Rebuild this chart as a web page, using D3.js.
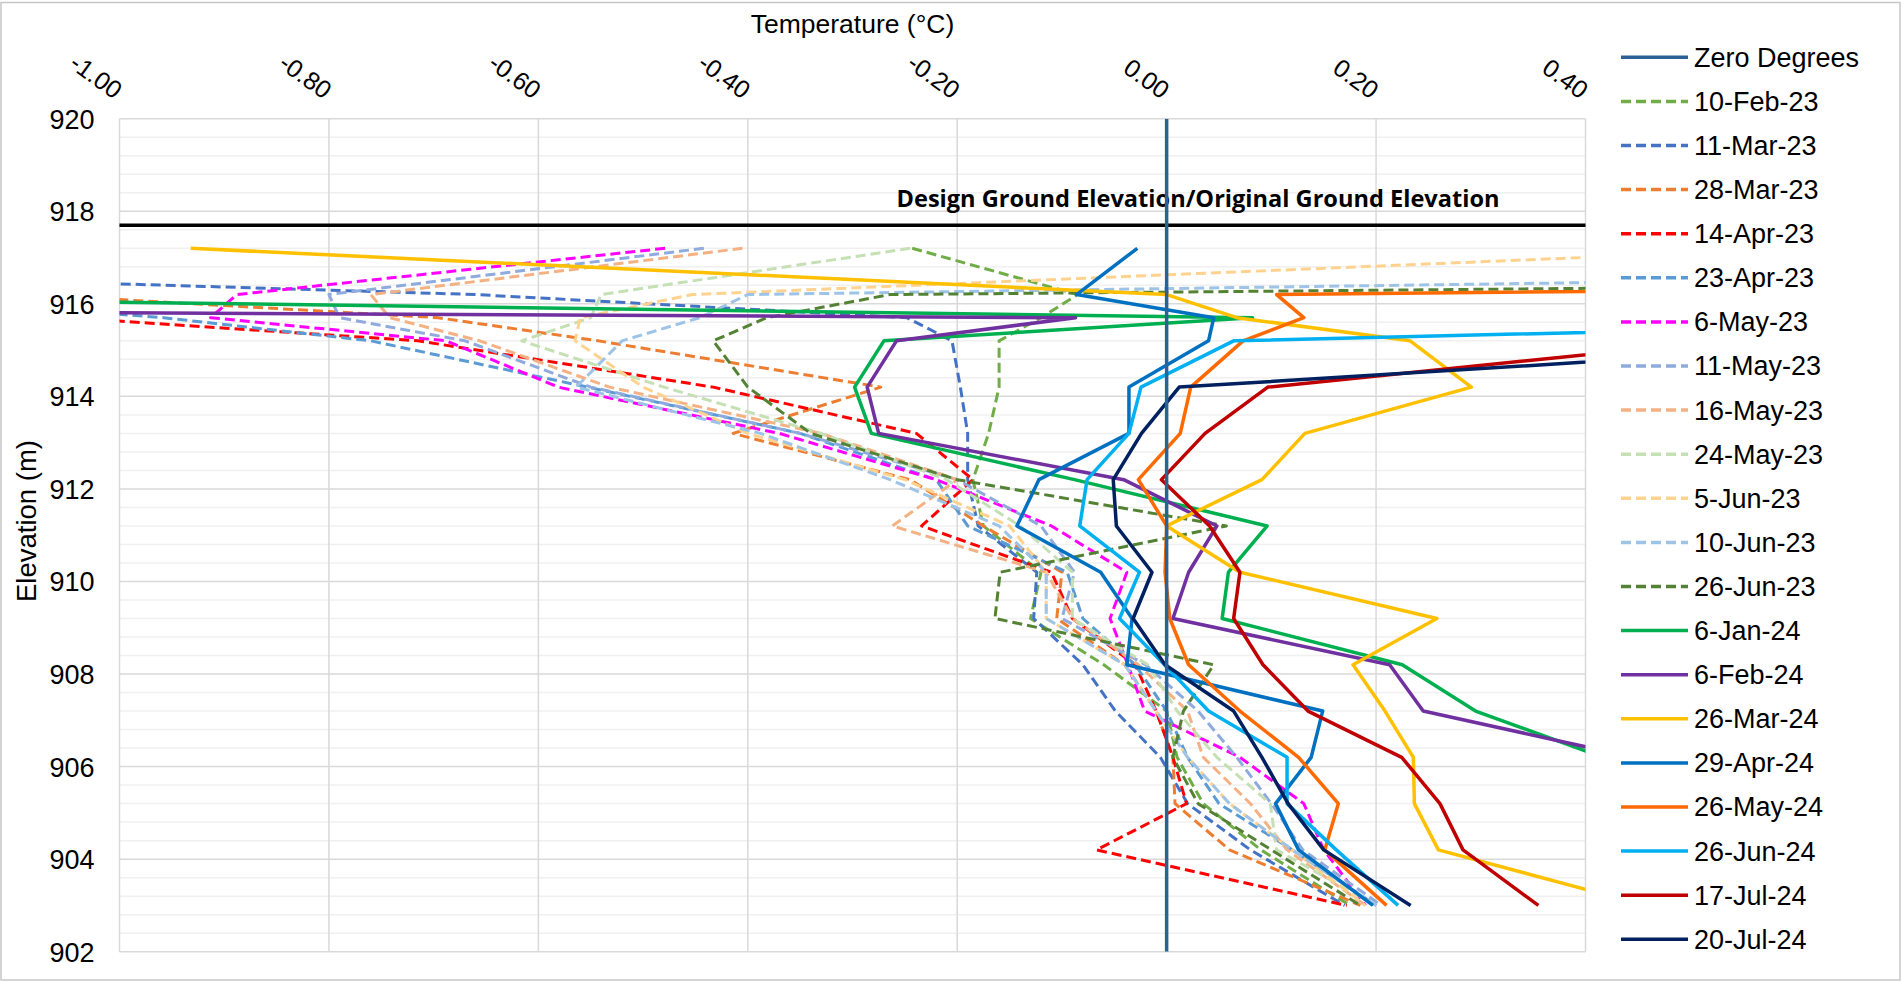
<!DOCTYPE html>
<html><head><meta charset="utf-8">
<script src="https://cdn.jsdelivr.net/npm/d3@7"></script>
<style>body{margin:0;background:#fff}svg{display:block}</style>
</head><body>
<svg id="chart" width="1902" height="982"></svg>
<script>
// ---------- DATA ----------
const elevations = [917.2, 916.2, 915.7, 915.2, 914.2, 913.2, 912.2, 911.2, 910.2, 909.2, 908.2, 907.2, 906.2, 905.2, 904.2, 903.0];
const xTickValues = [-1.0, -0.8, -0.6, -0.4, -0.2, 0.0, 0.2, 0.4];
const yTickValues = [902, 904, 906, 908, 910, 912, 914, 916, 918, 920];
const designGroundElevation = 917.7;
const designLabel = "Design Ground Elevation/Original Ground Elevation";

const zeroDegreesTemp = [0, 0];
const zeroDegreesElev = [920, 902];

const t10Feb23 = [-0.243, -0.085, -0.12, -0.16, -0.16, -0.17, -0.185, -0.175, -0.12, -0.13, -0.06, 0.0, 0.01, 0.035, 0.09, 0.175];
const t11Mar23 = [-2.13, -0.66, -0.248, -0.205, -0.197, -0.19, -0.19, -0.18, -0.124, -0.127, -0.08, -0.049, -0.006, 0.02, 0.08, 0.17];
const t28Mar23 = [-1.5, -1.085, -0.696, -0.543, -0.273, -0.414, -0.245, -0.175, -0.10, -0.105, -0.04, -0.01, 0.006, 0.008, 0.06, 0.185];
const t14Apr23 = [-1.5, -1.3, -1.05, -0.715, -0.433, -0.239, -0.185, -0.234, -0.11, -0.09, -0.03, -0.01, 0.006, 0.019, -0.067, 0.172];
const t23Apr23 = [-1.6, -1.25, -0.958, -0.76, -0.553, -0.35, -0.22, -0.19, -0.095, -0.08, -0.03, 0.0, 0.02, 0.05, 0.12, 0.2];
const t6May23 = [-0.479, -0.888, -0.913, -0.688, -0.581, -0.37, -0.22, -0.11, -0.038, -0.054, -0.037, -0.021, 0.07, 0.131, 0.15, 0.19];
const t11May23 = [-0.442, -0.80, -0.79, -0.67, -0.55, -0.35, -0.2, -0.12, -0.088, -0.1, -0.02, 0.03, 0.067, 0.1, 0.13, 0.205];
const t16May23 = [-0.405, -0.76, -0.742, -0.656, -0.532, -0.33, -0.2, -0.262, -0.115, -0.09, -0.027, 0.02, 0.035, 0.08, 0.115, 0.19];
const t24May23 = [-0.245, -0.54, -0.55, -0.616, -0.48, -0.33, -0.21, -0.14, -0.09, -0.09, -0.018, 0.01, 0.048, 0.099, 0.105, 0.2];
const t5Jun23 = [0.61, -0.453, -0.56, -0.565, -0.50, -0.40, -0.25, -0.15, -0.115, -0.115, -0.04, -0.01, 0.02, 0.06, 0.12, 0.19];
const t10Jun23 = [2.7, -0.4, -0.446, -0.52, -0.564, -0.388, -0.264, -0.16, -0.115, -0.115, -0.04, -0.01, 0.02, 0.06, 0.12, 0.2];
const t26Jun23 = [4.7, -0.264, -0.382, -0.433, -0.40, -0.34, -0.2, 0.057, -0.159, -0.164, 0.045, 0.016, 0.006, 0.03, 0.1, 0.185];
const t6Jan24 = [-2.0, -1.54, 0.082, -0.27, -0.298, -0.282, -0.088, 0.096, 0.059, 0.053, 0.225, 0.295, 0.417, 0.5, 0.55, 0.6];
const t6Feb24 = [-5.0, -4.3, -0.087, -0.258, -0.286, -0.275, -0.041, 0.048, 0.021, 0.006, 0.213, 0.245, 0.446, 0.5, 0.55, 0.6];
const t26Mar24 = [-0.932, 0.0, 0.067, 0.2325, 0.291, 0.132, 0.091, 0.0, 0.070, 0.258, 0.178, 0.2085, 0.2356, 0.2366, 0.2595, 0.457];
const t29Apr24 = [-0.028, -0.086, 0.045, 0.040, -0.036, -0.036, -0.122, -0.143, -0.063, -0.033, -0.038, 0.149, 0.138, 0.104, 0.126, 0.197];
const t26May24 = [4.5, 0.105, 0.131, 0.073, 0.023, 0.013, -0.027, 0.0, -0.0015, 0.003, 0.021, 0.070, 0.126, 0.164, 0.151, 0.21];
const t26Jun24 = [2.0, 1.5, 0.99, 0.064, -0.0245, -0.036, -0.076, -0.083, -0.026, -0.045, -0.002, 0.040, 0.115, 0.115, 0.162, 0.221];
const t17Jul24 = [1.2, 0.9, 0.7, 0.53, 0.0966, 0.0367, -0.005, 0.041, 0.070, 0.064, 0.092, 0.135, 0.2245, 0.261, 0.283, 0.355];
const t20Jul24 = [1.3, 1.0, 0.85, 0.73, 0.012, -0.024, -0.051, -0.048, -0.014, -0.032, -0.0015, 0.064, 0.091, 0.116, 0.150, 0.233];

const seriesNames = ["Zero Degrees", "10-Feb-23", "11-Mar-23", "28-Mar-23", "14-Apr-23", "23-Apr-23", "6-May-23", "11-May-23", "16-May-23", "24-May-23", "5-Jun-23", "10-Jun-23", "26-Jun-23", "6-Jan-24", "6-Feb-24", "26-Mar-24", "29-Apr-24", "26-May-24", "26-Jun-24", "17-Jul-24", "20-Jul-24"];
const seriesColors = ["#2a6298", "#70ad47", "#4472c4", "#ed7d31", "#ff0000", "#5b9bd5", "#ff00ff", "#8faadc", "#f4b183", "#c5e0b4", "#ffd38f", "#9dc3e6", "#548235", "#00b050", "#7030a0", "#ffc000", "#0070c0", "#ff6a00", "#00b0f0", "#c00000", "#002060"];
const seriesDashed = [false, true, true, true, true, true, true, true, true, true, true, true, true, false, false, false, false, false, false, false, false];
const seriesTemps = [zeroDegreesTemp, t10Feb23, t11Mar23, t28Mar23, t14Apr23, t23Apr23, t6May23, t11May23, t16May23, t24May23, t5Jun23, t10Jun23, t26Jun23, t6Jan24, t6Feb24, t26Mar24, t29Apr24, t26May24, t26Jun24, t17Jul24, t20Jul24];

// ---------- LAYOUT ----------
const W = 1902, H = 982;
const P = {left: 119.5, right: 1585.5, top: 118.7, bottom: 951.7};
const svg = d3.select("#chart");
const FONT = "'Liberation Sans', Arial, sans-serif";

const x = d3.scaleLinear().domain([-1.0, 0.4]).range([P.left, P.right]);
const y = d3.scaleLinear().domain([902, 920]).range([P.bottom, P.top]);

svg.append("rect").attr("x", 1).attr("y", 2.5).attr("width", W - 3).attr("height", H - 4.5)
  .attr("fill", "#fff").attr("stroke", "#c6c6c6").attr("stroke-width", 1.5);

// minor gridlines every 0.4 m
const minor = d3.range(0, 46).map(i => 902 + i * 0.4).filter(v => Math.abs((v - 902) / 2 - Math.round((v - 902) / 2)) > 1e-6);
svg.append("g").selectAll("line").data(minor).join("line")
  .attr("x1", P.left).attr("x2", P.right).attr("y1", d => y(d)).attr("y2", d => y(d))
  .attr("stroke", "#f0f0f0").attr("stroke-width", 1.5);
svg.append("g").selectAll("line").data(yTickValues).join("line")
  .attr("x1", P.left).attr("x2", P.right).attr("y1", d => y(d)).attr("y2", d => y(d))
  .attr("stroke", "#d9d9d9").attr("stroke-width", 1.5);
svg.append("g").selectAll("line").data(xTickValues).join("line")
  .attr("x1", d => x(d)).attr("x2", d => x(d)).attr("y1", P.top).attr("y2", P.bottom)
  .attr("stroke", "#d9d9d9").attr("stroke-width", 1.5);

// y axis labels
const yAxis = d3.axisLeft(y).tickValues(yTickValues).tickSize(0).tickPadding(0).tickFormat(d3.format("d"));
const gy = svg.append("g").attr("transform", `translate(${P.left - 25},0)`).call(yAxis);
gy.select(".domain").remove();
gy.selectAll("text").attr("font-family", FONT).attr("font-size", 27).attr("fill", "#000").attr("dy", "0.35em");

// x axis labels (top, rotated)
const xAxis = d3.axisTop(x).tickValues(xTickValues).tickSize(0).tickFormat(d => d.toFixed(2));
const gx = svg.append("g").call(xAxis);
gx.select(".domain").remove();
gx.selectAll("text").attr("font-family", FONT).attr("font-size", 25).attr("fill", "#000")
  .attr("x", 0).attr("y", 0).attr("dy", 0).attr("text-anchor", "end")
  .attr("transform", "translate(-6,100) rotate(36)");

// axis titles
svg.append("text").attr("x", (P.left + P.right) / 2).attr("y", 33).attr("text-anchor", "middle")
  .attr("font-family", FONT).attr("font-size", 26.5).text("Temperature (°C)");
svg.append("text").attr("transform", "translate(36,521) rotate(-90)").attr("text-anchor", "middle")
  .attr("font-family", FONT).attr("font-size", 27.5).text("Elevation (m)");

svg.append("clipPath").attr("id", "plotclip").append("rect")
  .attr("x", P.left).attr("y", P.top).attr("width", P.right - P.left).attr("height", P.bottom - P.top);

// design ground line
svg.append("line").attr("x1", x(-1.0)).attr("x2", x(0.4)).attr("y1", y(designGroundElevation)).attr("y2", y(designGroundElevation))
  .attr("stroke", "#000").attr("stroke-width", 3.5);
svg.append("text").attr("x", 896.5).attr("y", 207).attr("font-family", "'Open Sans', sans-serif")
  .attr("font-weight", "bold").attr("font-size", 24).attr("textLength", 603).attr("lengthAdjust", "spacingAndGlyphs")
  .text(designLabel);

// series
const line = d3.line().x(d => x(d.t)).y(d => y(d.e));
const gLines = svg.append("g").attr("clip-path", "url(#plotclip)");
const order = d3.range(1, seriesNames.length).concat([0]);
order.forEach(i => {
  const elev = i === 0 ? zeroDegreesElev : elevations;
  const pts = seriesTemps[i].map((t, k) => ({t, e: elev[k]}));
  gLines.append("path").datum(pts).attr("d", line).attr("fill", "none")
    .attr("stroke", seriesColors[i])
    .attr("stroke-width", seriesDashed[i] ? 3 : 3.5)
    .attr("stroke-linejoin", "round")
    .attr("stroke-dasharray", seriesDashed[i] ? "10,5" : null);
});

// legend
const lg = svg.append("g");
seriesNames.forEach((n, i) => {
  const cy = 57.3 + i * 44.1;
  lg.append("line").attr("x1", 1621).attr("x2", 1688).attr("y1", cy).attr("y2", cy)
    .attr("stroke", seriesColors[i]).attr("stroke-width", 3.5)
    .attr("stroke-dasharray", seriesDashed[i] ? "10,5" : null);
  lg.append("text").attr("x", 1694).attr("y", cy).attr("dy", "0.35em")
    .attr("font-family", FONT).attr("font-size", 27).text(n);
});
</script>
</body></html>
